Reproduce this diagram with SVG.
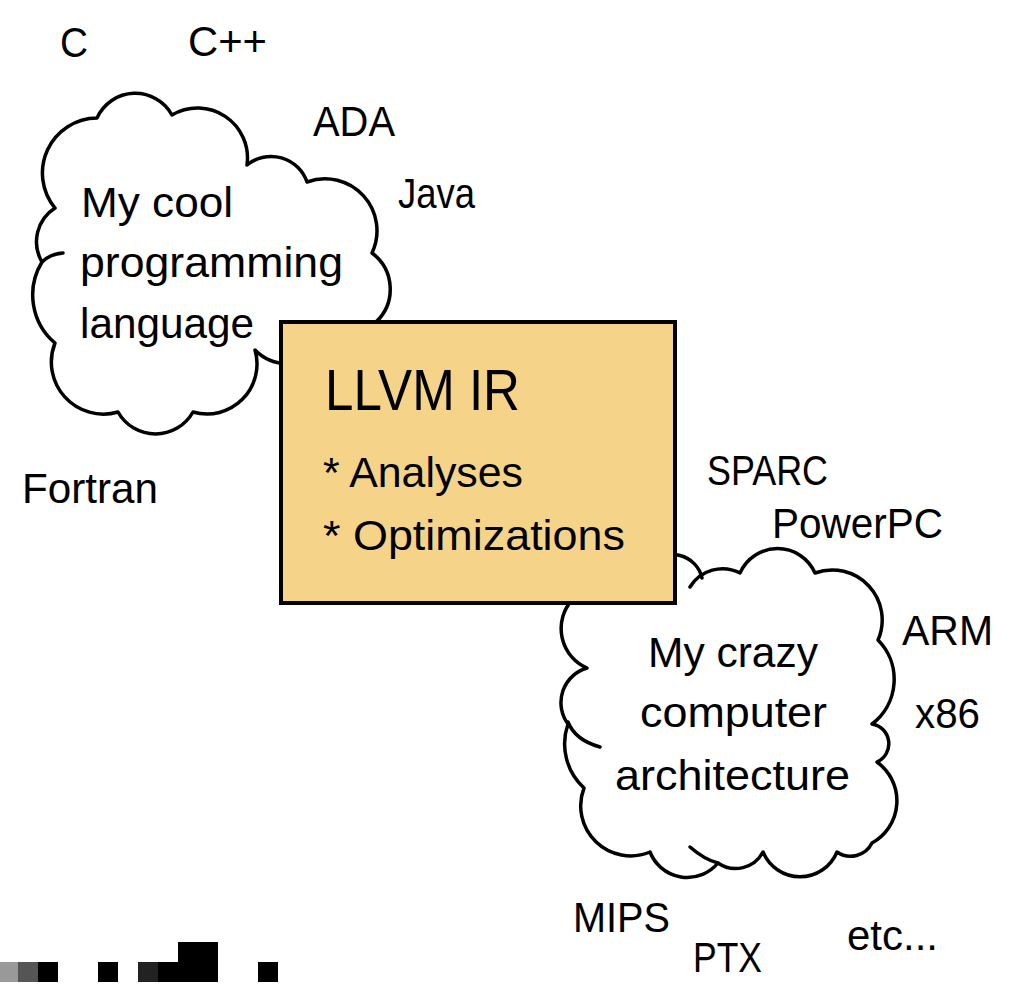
<svg xmlns="http://www.w3.org/2000/svg" width="1034" height="990" viewBox="0 0 1034 990">
<style>
.cloud{fill:#fff;stroke:#000;stroke-width:3.5;stroke-linejoin:round;stroke-linecap:round}
.arc{fill:none;stroke:#000;stroke-width:3.5;stroke-linecap:round}
.t{font-family:"Liberation Sans",Arial,sans-serif;font-size:42px;fill:#000}
.big{font-size:58px}
</style>
<rect width="1034" height="990" fill="#fff"/>
<g id="lang-cloud">
<path class="cloud" d="M97 118 A42 42 0 0 1 172 115 A50 50 0 0 1 247 165 A38 38 0 0 1 307 182 A52 52 0 0 1 372 253 A45 45 0 0 1 376 322 L320 350 A45.6 45.6 0 0 1 255 350 A50 50 0 0 1 193 412 A43 43 0 0 1 118 412 A52 52 0 0 1 55 343 A63 63 0 0 1 42 262 A40 40 0 0 1 55 208 A55 55 0 0 1 97 118 Z"/>
<path class="arc" d="M42 262 Q50 254 63 253"/>
<text class="t" x="81" y="217" textLength="152" lengthAdjust="spacingAndGlyphs">My cool</text>
<text class="t" x="80" y="277" textLength="263" lengthAdjust="spacingAndGlyphs">programming</text>
<text class="t" x="80" y="338" textLength="174" lengthAdjust="spacingAndGlyphs">language</text>
</g>
<g id="arch-cloud">
<path class="cloud" d="M690 587 A38 38 0 0 1 740 573 A41 41 0 0 1 815 573 A50 50 0 0 1 878 640 A56 56 0 0 1 872 724 A20 20 0 0 1 877 762 A48 48 0 0 1 872 843 A24 24 0 0 1 837 852 A40 40 0 0 1 763 852 A31 31 0 0 1 718 863 A40 40 0 0 1 650 852 A50 50 0 0 1 584 788 A60 60 0 0 1 568 724 A36 36 0 0 1 587 668 A43 43 0 0 1 572 600 L600 590"/>
<path class="arc" d="M650 565 A30 30 0 0 1 702 578"/>
<path class="arc" d="M690 847 Q705 860 718 863"/>
<path class="arc" d="M600 747 Q575 740 568 722"/>
<text class="t" x="648" y="667" textLength="170" lengthAdjust="spacingAndGlyphs">My crazy</text>
<text class="t" x="640" y="727" textLength="187" lengthAdjust="spacingAndGlyphs">computer</text>
<text class="t" x="615" y="790" textLength="235" lengthAdjust="spacingAndGlyphs">architecture</text>
</g>
<g id="llvm-ir">
<rect x="281" y="322" width="394" height="281" fill="#F5D48A" stroke="#000" stroke-width="4"/>
<text class="t big" x="325" y="410" textLength="195" lengthAdjust="spacingAndGlyphs">LLVM IR</text>
<text class="t" x="323" y="487" textLength="200" lengthAdjust="spacingAndGlyphs">* Analyses</text>
<text class="t" x="323" y="550" textLength="302" lengthAdjust="spacingAndGlyphs">* Optimizations</text>
</g>
<g id="languages">
<text class="t" x="60" y="57" textLength="28" lengthAdjust="spacingAndGlyphs">C</text>
<text class="t" x="188" y="56" textLength="79" lengthAdjust="spacingAndGlyphs">C++</text>
<text class="t" x="313" y="136" textLength="82" lengthAdjust="spacingAndGlyphs">ADA</text>
<text class="t" x="398" y="208" textLength="77" lengthAdjust="spacingAndGlyphs">Java</text>
<text class="t" x="22" y="503" textLength="136" lengthAdjust="spacingAndGlyphs">Fortran</text>
</g>
<g id="targets">
<text class="t" x="707" y="485" textLength="121" lengthAdjust="spacingAndGlyphs">SPARC</text>
<text class="t" x="772" y="538" textLength="171" lengthAdjust="spacingAndGlyphs">PowerPC</text>
<text class="t" x="902" y="645" textLength="91" lengthAdjust="spacingAndGlyphs">ARM</text>
<text class="t" x="915" y="728" textLength="65" lengthAdjust="spacingAndGlyphs">x86</text>
<text class="t" x="573" y="932" textLength="97" lengthAdjust="spacingAndGlyphs">MIPS</text>
<text class="t" x="693" y="972" textLength="69" lengthAdjust="spacingAndGlyphs">PTX</text>
<text class="t" x="847" y="950" textLength="91" lengthAdjust="spacingAndGlyphs">etc...</text>
</g>
<g id="connectors"></g>
<g id="artifact">
<rect x="0" y="962" width="18" height="20" fill="#999"/>
<rect x="18" y="962" width="20" height="20" fill="#555"/>
<rect x="38" y="962" width="20" height="20" fill="#000"/>
<rect x="98" y="962" width="20" height="20" fill="#000"/>
<rect x="138" y="962" width="20" height="20" fill="#222"/>
<rect x="158" y="962" width="20" height="20" fill="#000"/>
<rect x="178" y="942" width="40" height="40" fill="#000"/>
<rect x="258" y="962" width="20" height="20" fill="#000"/>
</g>
</svg>
